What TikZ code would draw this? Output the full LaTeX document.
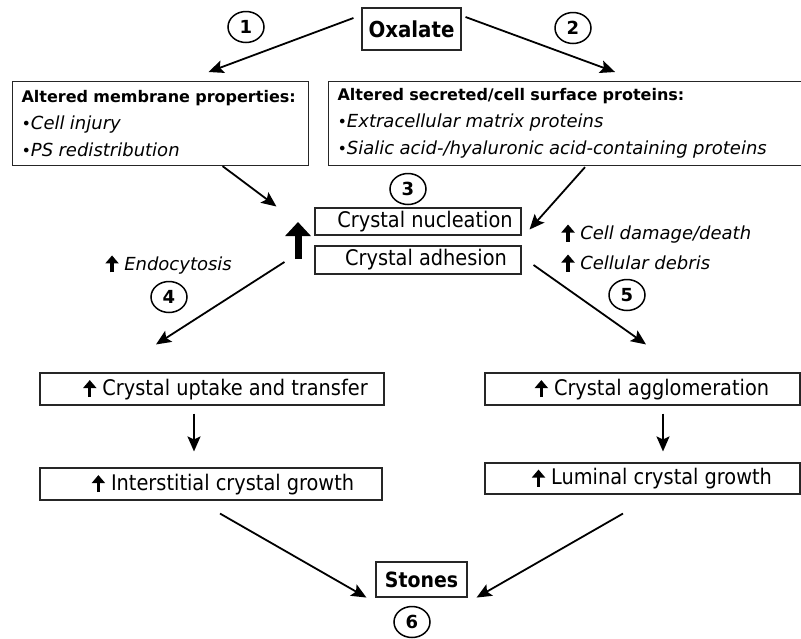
\documentclass[tikz,border=0pt]{standalone}
\usepackage{fontspec}
\setmainfont{DejaVu Sans}
\newfontfamily\condfont{DejaVu Sans Condensed}
\usetikzlibrary{positioning, arrows.meta, shapes.geometric}

% small thick "increase" arrow
\newcommand{\incr}{\tikz[baseline=0pt]\draw[line width=3.2pt, -{Triangle[length=8pt,width=13pt]}] (0pt,-2pt) -- (0pt,15pt);}

\begin{document}
\begin{tikzpicture}[
                x=1pt, y=-1pt,
                box/.style={draw=black!85, line width=1.1pt, inner sep=0pt},
                arrow/.style={-{Stealth[length=15pt,width=13pt,inset=3pt]}, line width=1.8pt},
                stepnum/.style={ellipse, draw, line width=1.5pt, minimum width=36pt, minimum height=31pt, inner sep=0pt, font=\fontsize{18}{18}\selectfont\bfseries},
                crystal/.style={box, font=\condfont\fontsize{21.5}{24}\selectfont},
                headbox/.style={box, anchor=north west, minimum height=84pt, align=left, inner xsep=9pt, font=\fontsize{16}{27}\selectfont},
                notestyle/.style={font=\itshape\fontsize{18}{30}\selectfont}
            ]
                \useasboundingbox (0,0) rectangle (801,638);

                % Oxalate source
                \node[box, minimum width=99pt, minimum height=42pt, font=\condfont\bfseries\fontsize{22}{22}\selectfont] (oxalate) at (411.5,29) {Oxalate};
                \node[stepnum] (one) at (246,27) {1};
                \node[stepnum] (two) at (573,28) {2};

                % Altered properties
                \node[headbox, text width=278pt] (membrane) at (12,81) {\textbf{Altered membrane properties:}\\
                    •{\itshape\fontsize{18}{27}\selectfont Cell injury}\\
                    •{\itshape\fontsize{18}{27}\selectfont PS redistribution}};
                \node[headbox, text width=457pt] (proteins) at (328,81) {\textbf{Altered secreted/cell surface proteins:}\\
                    •{\itshape\fontsize{18}{27}\selectfont Extracellular matrix proteins}\\
                    •{\itshape\fontsize{18}{27}\selectfont Sialic acid-/hyaluronic acid-containing proteins}};

                % Nucleation and adhesion
                \node[stepnum] (three) at (408,189) {3};
                \node[crystal, minimum width=206pt, minimum height=27pt] (nucleation) at (418,221.5) {\hspace*{14pt}Crystal nucleation};
                \node[crystal, minimum width=206pt, minimum height=28pt] (adhesion) at (418,260) {\hspace*{16pt}Crystal adhesion};
                \coordinate (bigup) at (298,259);
                \draw[line width=7pt, -{Triangle[length=14pt,width=25pt]}] (bigup) -- ++(0,-37);

                % Side effects
                \node[anchor=west, notestyle] (endo) at (102,264) {\incr\ Endocytosis};
                \node[anchor=west, align=left, notestyle] (damage) at (558,248) {\incr\ Cell damage/death\\ \incr\ Cellular debris};
                \node[stepnum] (four) at (169,297) {4};
                \node[stepnum] (five) at (627,295) {5};

                % Two routes
                \node[crystal, minimum width=344pt, minimum height=32pt] (uptake) at (212,389) {\hspace*{27pt}\incr\ Crystal uptake and transfer};
                \node[crystal, minimum width=342pt, minimum height=32pt] (interstitial) at (211,484) {\hspace*{24pt}\incr\ Interstitial crystal growth};
                \node[crystal, minimum width=315pt, minimum height=32pt] (agglom) at (642.5,389) {\hspace*{19pt}\incr\ Crystal agglomeration};
                \node[crystal, minimum width=315pt, minimum height=31pt] (luminal) at (642.5,478.5) {\hspace*{19pt}\incr\ Luminal crystal growth};

                % Stones
                \node[box, minimum width=91pt, minimum height=35pt, font=\condfont\bfseries\fontsize{21}{21}\selectfont] (stones) at (421.5,579.5) {Stones};
                \node[stepnum] (six) at (412,622) {6};

                % Arrows
                \draw[arrow] ([shift={(-8,-11)}]oxalate.west) -- ([shift={(48,-9)}]membrane.north);
                \draw[arrow] ([shift={(4,-12)}]oxalate.east) -- ([shift={(49,-9)}]proteins.north);
                \draw[arrow] ([shift={(62,0)}]membrane.south) -- ([shift={(-38,-15)}]nucleation.west);
                \draw[arrow] ([shift={(19,1)}]proteins.south) -- ([shift={(8,8)}]nucleation.east);
                \draw[arrow] ([shift={(-30,2)}]adhesion.west) -- ([shift={(-56,-28)}]uptake.north);
                \draw[arrow] ([shift={(12,5)}]adhesion.east) -- ([shift={(3.5,-28)}]agglom.north);
                \draw[arrow] ([shift={(-18,8)}]uptake.south) -- ([shift={(-17,-16)}]interstitial.north);
                \draw[arrow] ([shift={(20.5,8)}]agglom.south) -- ([shift={(20.5,-11)}]luminal.north);
                \draw[arrow] ([shift={(9,13)}]interstitial.south) -- ([shift={(-9,0)}]stones.south west);
                \draw[arrow] ([shift={(-19.5,19)}]luminal.south) -- ([shift={(9,0)}]stones.south east);
            \end{tikzpicture}
\end{document}
